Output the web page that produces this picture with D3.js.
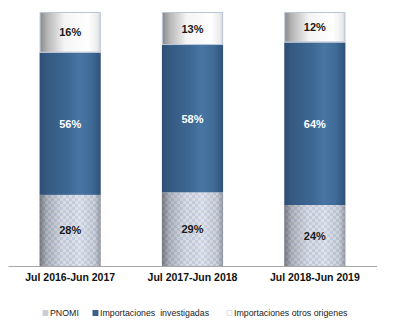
<!DOCTYPE html>
<html><head><meta charset="utf-8">
<script src="https://cdn.jsdelivr.net/npm/d3@7"></script>
<style>body{margin:0;background:#fff}svg{display:block}</style>
</head><body>
<script>
const categories = ["Jul 2016-Jun 2017", "Jul 2017-Jun 2018", "Jul 2018-Jun 2019"];
const seriesNames = ["PNOMI", "Importaciones  investigadas", "Importaciones otros origenes"];
const pnomi = [28, 29, 24];
const investigadas = [56, 58, 64];
const otros = [16, 13, 12];

const W = 395, H = 327;
const svg = d3.select("body").append("svg").attr("width", W).attr("height", H);
const defs = svg.append("defs");

function hgrad(id, stops) {
  const g = defs.append("linearGradient").attr("id", id).attr("x1", 0).attr("x2", 1).attr("y1", 0).attr("y2", 0);
  stops.forEach(s => g.append("stop").attr("offset", s[0]).attr("stop-color", s[1]).attr("stop-opacity", s[2] == null ? 1 : s[2]));
}
hgrad("gBlue", [[0, "#2e4e74"], [0.12, "#355a82"], [0.45, "#3d6792"], [0.65, "#4876a4"], [0.85, "#3f6a96"], [1, "#30527a"]]);
hgrad("gWhite", [[0, "#8a8a8a"], [0.12, "#b5b5b5"], [0.4, "#f4f4f4"], [0.8, "#ffffff"], [0.95, "#ececec"], [1, "#d5d5d5"]]);
hgrad("gGreyShade", [[0, "#000", 0.45], [0.12, "#000", 0.2], [0.4, "#000", 0.02], [0.65, "#fff", 0.1], [0.9, "#000", 0.08], [1, "#000", 0.3]]);
const pat = defs.append("pattern").attr("id", "pCheck").attr("width", 6).attr("height", 6).attr("patternUnits", "userSpaceOnUse");
pat.append("rect").attr("width", 6).attr("height", 6).attr("fill", "#c8d0e0");
pat.append("rect").attr("width", 3).attr("height", 3).attr("fill", "#dde2ec");
pat.append("rect").attr("x", 3).attr("y", 3).attr("width", 3).attr("height", 3).attr("fill", "#dde2ec");

const margin = {left: 8, right: 18, top: 12, bottom: 61};
const plotBottom = H - margin.bottom;
const x = d3.scaleBand().domain(categories).range([9, 376]).paddingInner(0.5).paddingOuter(0.25);
const y = d3.scaleLinear().domain([0, 100]).range([plotBottom, margin.top]);

const stackData = categories.map((c, i) => ({cat: c, a: pnomi[i], b: investigadas[i], c: otros[i]}));
const stack = d3.stack().keys(["a", "b", "c"])(stackData);

const g = svg.append("g");
stack.forEach((layer, li) => {
  layer.forEach((d, i) => {
    const x0 = x(categories[i]), bw = x.bandwidth();
    const y0 = y(d[1]), h = y(d[0]) - y(d[1]);
    if (li === 0) {
      g.append("rect").attr("x", x0).attr("y", y0).attr("width", bw).attr("height", h).attr("fill", "url(#pCheck)");
      g.append("rect").attr("x", x0).attr("y", y0).attr("width", bw).attr("height", h).attr("fill", "url(#gGreyShade)");
    } else if (li === 1) {
      g.append("rect").attr("x", x0).attr("y", y0).attr("width", bw).attr("height", h).attr("fill", "url(#gBlue)");
    } else {
      g.append("rect").attr("x", x0 + 0.5).attr("y", y0 + 0.5).attr("width", bw - 1).attr("height", h - 1)
        .attr("fill", "url(#gWhite)").attr("stroke", "#b9c5d9").attr("stroke-width", 1);
    }
    const val = [pnomi, investigadas, otros][li][i];
    g.append("text").attr("x", x0 + bw / 2).attr("y", (y0 + y(d[0])) / 2)
      .attr("text-anchor", "middle").attr("dominant-baseline", "central")
      .attr("font-family", "Liberation Sans, Arial, sans-serif").attr("font-weight", "bold")
      .attr("font-size", "11px").attr("fill", li === 1 ? "#ffffff" : "#1a1a1a")
      .text(val + "%");
  });
});

const axis = d3.axisBottom(x).tickSize(0).tickPadding(8);
const ax = svg.append("g").attr("transform", `translate(0,${plotBottom})`).call(axis);
ax.select(".domain").attr("stroke", "#a6a6a6").attr("d", "M8.5,0.5H377");
ax.selectAll("text").attr("font-family", "Liberation Sans, Arial, sans-serif").attr("font-weight", "bold")
  .attr("font-size", "10.5px").attr("fill", "#111").attr("dy", "0.71em");

const legX = [43, 93, 227];
const legFill = ["#c9cdd6", "#3a6391", "#ffffff"];
const legStroke = ["#c9cdd6", "#2a4a70", "#d6dbe6"];
const leg = svg.append("g").attr("transform", "translate(0,313)");
seriesNames.forEach((n, i) => {
  leg.append("rect").attr("x", legX[i]).attr("y", -2.5).attr("width", 5).attr("height", 5)
    .attr("fill", legFill[i]).attr("stroke", legStroke[i]).attr("stroke-width", 0.8);
  leg.append("text").attr("x", legX[i] + 7).attr("y", 0).attr("dominant-baseline", "central")
    .attr("font-family", "Liberation Sans, Arial, sans-serif").attr("font-size", "8.8px").attr("fill", "#222")
    .style("white-space", "pre").text(n);
});
</script>
</body></html>
